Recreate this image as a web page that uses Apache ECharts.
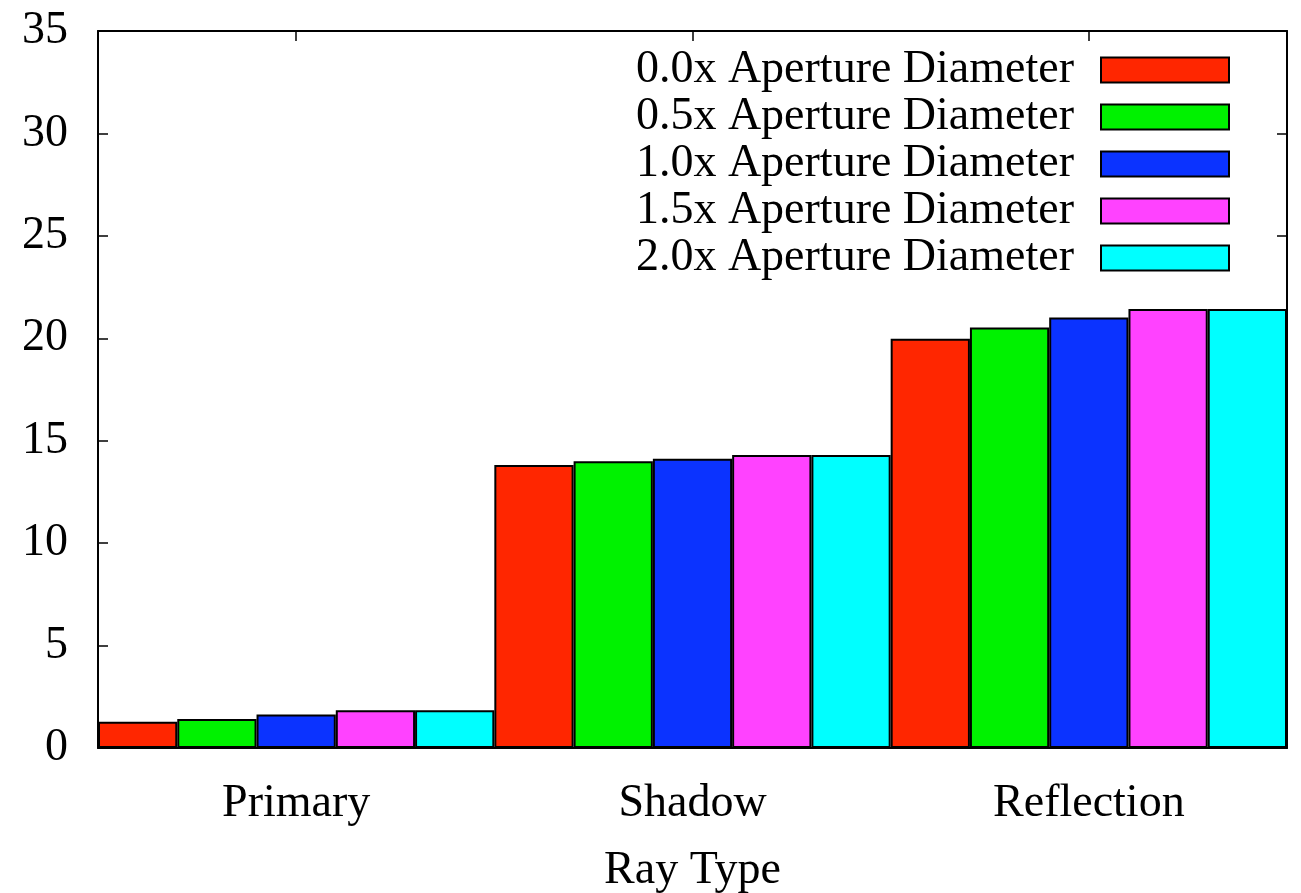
<!DOCTYPE html>
<html>
<head>
<meta charset="utf-8">
<script src="https://cdn.jsdelivr.net/npm/echarts@6/dist/echarts.min.js"></script>
<style>
  html, body { margin: 0; padding: 0; background: #fff; }
  #chart { width: 1301px; height: 893px; }
</style>
</head>
<body>
<div id="chart"></div>
<script>
// Ray categories along the x axis
const categories = ['Primary', 'Shadow', 'Reflection'];

// One series per aperture-offset setting
const seriesNames = [
  '0.0x Aperture Diameter',
  '0.5x Aperture Diameter',
  '1.0x Aperture Diameter',
  '1.5x Aperture Diameter',
  '2.0x Aperture Diameter'
];
const ap00 = [1.28, 13.81, 19.98];
const ap05 = [1.41, 14.00, 20.53];
const ap10 = [1.64, 14.12, 21.02];
const ap15 = [1.84, 14.30, 21.43];
const ap20 = [1.84, 14.30, 21.43];
const seriesValues = [ap00, ap05, ap10, ap15, ap20];

const colors = ['#ff2600', '#00f200', '#0b33ff', '#ff42ff', '#00ffff'];

const FONT = '"Liberation Serif", "DejaVu Serif", serif';
const FS = 46;

const chart = echarts.init(document.getElementById('chart'), null, { renderer: 'canvas' });

const frameLine = { show: true, onZero: false, lineStyle: { color: '#000', width: 2 } };
const innerTick = { show: true, inside: true, length: 10, lineStyle: { color: '#000', width: 1.5 } };

chart.setOption({
  animation: false,
  backgroundColor: '#fff',
  textStyle: { fontFamily: FONT, color: '#000' },
  grid: { left: 98, right: 14, top: 31, bottom: 145, containLabel: false, outerBoundsMode: 'none' },
  legend: {
    orient: 'vertical',
    right: 66,
    top: 42,
    align: 'right',
    icon: 'rect',
    itemWidth: 128,
    itemHeight: 25,
    itemGap: 1,
    textStyle: { fontFamily: FONT, fontSize: FS, color: '#000', padding: [0, 22, 0, 0] },
    data: seriesNames
  },
  xAxis: [
    {
      type: 'category',
      data: categories,
      position: 'bottom',
      axisLine: frameLine,
      axisTick: { show: false },
      axisLabel: { fontFamily: FONT, fontSize: FS, color: '#000', margin: 33 },
      name: 'Ray Type',
      nameLocation: 'middle',
      nameGap: 100,
      nameTextStyle: { fontFamily: FONT, fontSize: FS, color: '#000' }
    },
    {
      type: 'category',
      data: categories,
      position: 'top',
      axisLine: frameLine,
      axisTick: Object.assign({ alignWithLabel: true }, innerTick),
      axisLabel: { show: false }
    }
  ],
  yAxis: [
    {
      type: 'value',
      min: 0,
      max: 35,
      interval: 5,
      position: 'left',
      axisLine: frameLine,
      axisTick: innerTick,
      axisLabel: { fontFamily: FONT, fontSize: FS, color: '#000', margin: 30 },
      splitLine: { show: false }
    },
    {
      type: 'value',
      min: 0,
      max: 35,
      interval: 5,
      position: 'right',
      axisLine: frameLine,
      axisTick: innerTick,
      axisLabel: { show: false },
      splitLine: { show: false }
    }
  ],
  series: seriesNames.map((name, i) => ({
    name: name,
    type: 'bar',
    xAxisIndex: 0,
    yAxisIndex: 0,
    data: seriesValues[i],
    barGap: '0%',
    barCategoryGap: '0%',
    itemStyle: { color: colors[i], borderColor: '#000', borderWidth: 2 }
  }))
});
</script>
</body>
</html>
